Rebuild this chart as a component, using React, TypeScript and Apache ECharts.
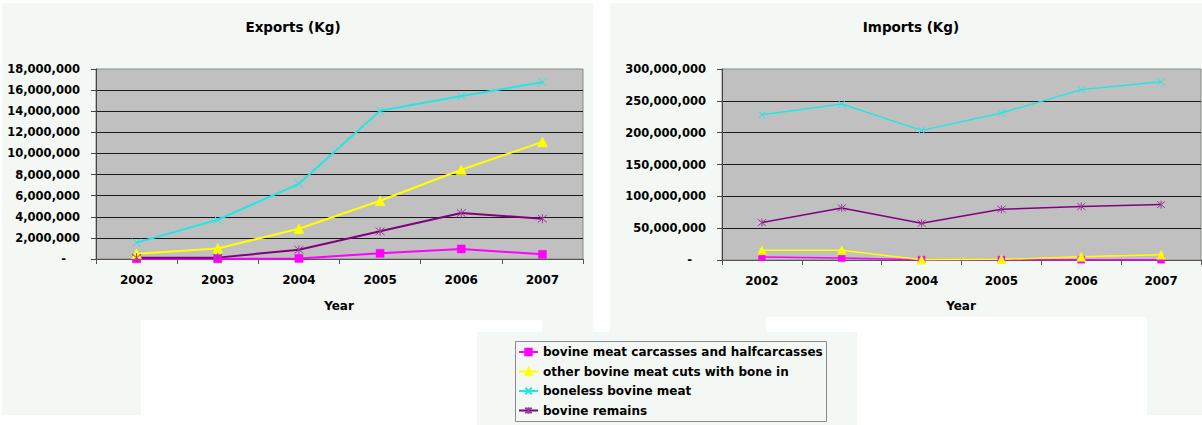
import React, { useEffect, useRef } from 'react';
import * as echarts from 'echarts';

// ---------- data ----------
const years = ['2002', '2003', '2004', '2005', '2006', '2007'];

const seriesNames = [
  'bovine meat carcasses and halfcarcasses',
  'other bovine meat cuts with bone in',
  'boneless bovine meat',
  'bovine remains',
];

// Exports (Kg)
const expCarcasses = [20000, 20000, 50000, 540000, 950000, 440000];
const expCuts = [500000, 1000000, 2870000, 5520000, 8450000, 11100000];
const expBoneless = [1550000, 3720000, 7120000, 14050000, 15450000, 16750000];
const expRemains = [120000, 130000, 880000, 2620000, 4350000, 3820000];

// Imports (Kg)
const impCarcasses = [4700000, 3000000, 500000, 500000, 500000, 500000];
const impCuts = [15200000, 15200000, 300000, 1000000, 5000000, 8400000];
const impBoneless = [228000000, 245000000, 203600000, 231000000, 267600000, 280000000];
const impRemains = [58800000, 81800000, 57700000, 79700000, 84000000, 87000000];

const exportMax = 18000000;
const exportInterval = 2000000;
const importMax = 300000000;
const importInterval = 50000000;

const titles = ['Exports (Kg)', 'Imports (Kg)'];
const axisName = 'Year';

// ---------- styles ----------
const FONT = '"DejaVu Sans", "Liberation Sans", Arial, sans-serif';
const colors = ['#ff00ff', '#ffff00', '#22e6e6', '#800080'];
const X_SYMBOL = 'path://M0,0L10,10M10,0L0,10';
const STAR_SYMBOL = 'path://M0,0L10,10M10,0L0,10M5,-1L5,11';
const symbols = ['rect', 'triangle', X_SYMBOL, STAR_SYMBOL];
const PANEL = '#f4f8f5';

function fmt(v: number): string {
  if (v === 0) return '{d|-}';
  return String(Math.round(v)).replace(/\B(?=(\d{3})+(?!\d))/g, ',');
}

function makeSeries(
  data: number[][],
  axisIndex: number,
  lineWidth: number,
  sizes: number[]
) {
  return data.map((d, i) => ({
    name: seriesNames[i],
    type: 'line',
    xAxisIndex: axisIndex,
    yAxisIndex: axisIndex,
    data: d,
    symbol: symbols[i],
    symbolSize: sizes[i],
    showAllSymbol: true,
    lineStyle: { color: colors[i], width: lineWidth },
    itemStyle: {
      color: colors[i],
      borderColor: i === 3 ? '#9a3a9a' : colors[i],
      borderWidth: i >= 2 ? 1 : 0.5,
    },
    emphasis: { disabled: true },
  }));
}

function yAxis(gridIndex: number, max: number, interval: number) {
  return {
    type: 'value',
    gridIndex,
    min: 0,
    max,
    interval,
    axisLine: { show: true, lineStyle: { color: '#444', width: 1 } },
    axisTick: { show: true, length: 5, lineStyle: { color: '#444' } },
    splitLine: {
      show: true,
      showMinLine: false,
      showMaxLine: false,
      lineStyle: { color: '#1a1a1a', width: 1 },
    },
    axisLabel: {
      margin: 16,
      color: '#000',
      fontFamily: FONT,
      fontWeight: 'bold',
      fontSize: 11.5,
      formatter: (v: number) => fmt(v),
      rich: {
        d: {
          fontFamily: FONT,
          fontWeight: 'bold',
          fontSize: 11.5,
          color: '#000',
          padding: [0, 14, 0, 0],
        },
      },
    },
  };
}

function xAxis(gridIndex: number) {
  return {
    type: 'category',
    gridIndex,
    data: years,
    boundaryGap: true,
    axisLine: { show: true, lineStyle: { color: '#555', width: 1 } },
    axisTick: { show: true, length: 5, alignWithLabel: false, lineStyle: { color: '#555' } },
    splitLine: { show: false },
    axisLabel: {
      margin: 15,
      color: '#000',
      fontFamily: FONT,
      fontWeight: 'bold',
      fontSize: 12,
    },
  };
}

function textEl(text: string, x: number, y: number, size: number) {
  return {
    type: 'text',
    z: 10,
    x,
    y,
    style: {
      text,
      fill: '#000',
      font: `bold ${size}px ${FONT}`,
      align: 'center',
      verticalAlign: 'middle',
      textAlign: 'center',
      textVerticalAlign: 'middle',
    },
  };
}

function rectEl(x: number, y: number, w: number, h: number, fill: string, z: number, stroke?: string) {
  return {
    type: 'rect',
    z,
    silent: true,
    shape: { x, y, width: w, height: h },
    style: stroke ? { fill, stroke, lineWidth: 1 } : { fill },
  };
}

export default function App() {
  const ref = useRef<HTMLDivElement>(null);

  useEffect(() => {
    if (!ref.current) return;
    const chart = echarts.init(ref.current, null, { renderer: 'svg' });

    const option = {
      animation: false,
      backgroundColor: '#ffffff',
      textStyle: { fontFamily: FONT },
      grid: [
        {
          left: 96,
          top: 69,
          width: 487,
          height: 190,
          show: true,
          backgroundColor: '#c0c0c0',
          borderColor: '#8a8a8a',
          borderWidth: 1,
          containLabel: false,
        },
        {
          left: 722,
          top: 69,
          width: 479,
          height: 191,
          show: true,
          backgroundColor: '#c0c0c0',
          borderColor: '#8a8a8a',
          borderWidth: 1,
          containLabel: false,
        },
      ],
      xAxis: [xAxis(0), xAxis(1)],
      yAxis: [yAxis(0, exportMax, exportInterval), yAxis(1, importMax, importInterval)],
      legend: {
        show: true,
        orient: 'vertical',
        left: 518,
        top: 345,
        itemWidth: 19,
        itemHeight: 8,
        itemGap: 5.5,
        padding: 0,
        selectedMode: false,
        data: seriesNames,
        textStyle: {
          color: '#000',
          fontFamily: FONT,
          fontWeight: 'bold',
          fontSize: 12,
          lineHeight: 14,
        },
      },
      graphic: [
        // panels
        rectEl(2, 3, 591, 412, PANEL, -10),
        rectEl(610, 3, 592, 412, PANEL, -10),
        // white areas under plots
        rectEl(141, 320, 401, 95, '#ffffff', -9),
        rectEl(766, 317, 381, 98, '#ffffff', -9),
        // legend panel
        rectEl(477, 332, 380, 93, PANEL, -8),
        // legend box
        rectEl(515.5, 341.5, 311, 80, PANEL, -7, '#8a8a8a'),
        // titles
        textEl(titles[0], 293, 27, 13.5),
        textEl(titles[1], 911, 27, 13.5),
        textEl(axisName, 339, 306, 12),
        textEl(axisName, 961, 306, 12),
      ],
      series: [
        ...makeSeries([expCarcasses, expCuts, expBoneless, expRemains], 0, 2, [8, 10, 8, 9]),
        ...makeSeries([impCarcasses, impCuts, impBoneless, impRemains], 1, 1.5, [7, 9, 7, 8]),
      ],
    };

    chart.setOption(option as any);
    return () => {
      chart.dispose();
    };
  }, []);

  return (
    <div
      ref={ref}
      style={{ position: 'fixed', left: 0, top: 0, width: 1202, height: 425 }}
    />
  );
}
